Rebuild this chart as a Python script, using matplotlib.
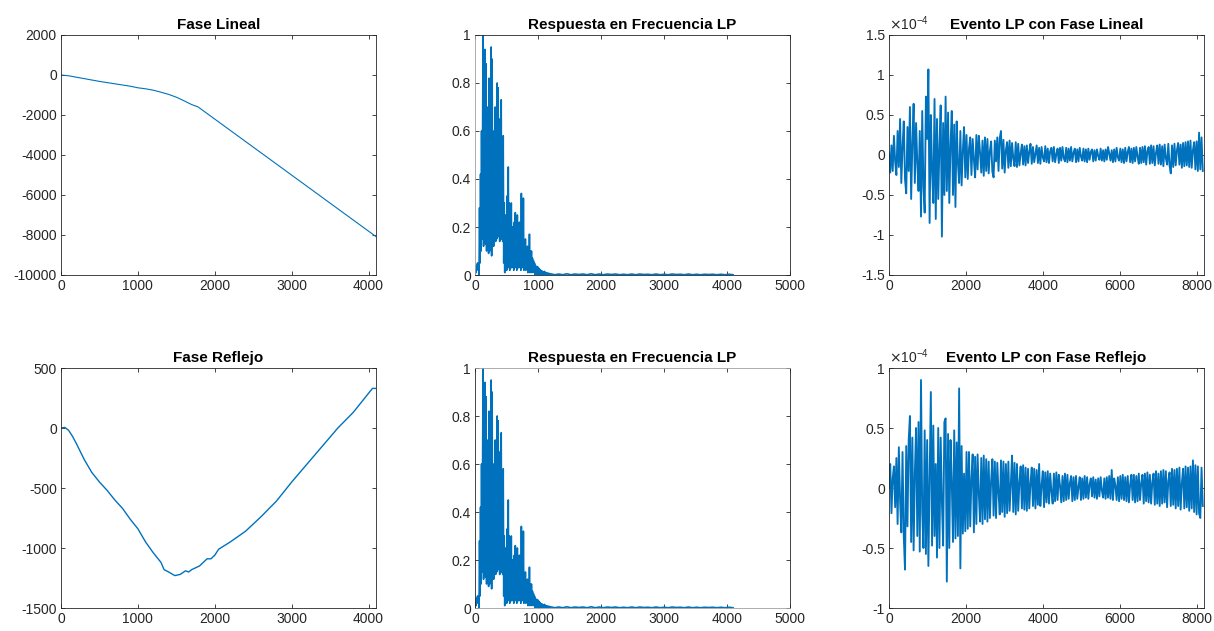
import numpy as np
import matplotlib
matplotlib.use('Agg')
import matplotlib.pyplot as plt
from matplotlib.ticker import FuncFormatter

plt.rcParams['font.family'] = ['Liberation Sans', 'DejaVu Sans']
plt.rcParams['axes.unicode_minus'] = False

BLUE = '#0072BD'
DARK = '#262626'

# --- phase curves (bin index, radians) ---
lin_phase_x = [0, 100, 300, 500, 700, 900, 1000, 1100, 1200, 1300, 1400, 1500,
               1600, 1700, 1780, 2000, 2500, 3000, 3500, 4000, 4096]
lin_phase_y = [0, -40, -180, -320, -440, -560, -640, -690, -760, -860, -970, -1110,
               -1290, -1480, -1590, -2206, -3607, -5008, -6409, -7811, -8080]

refl_phase_x = [0, 50, 100, 150, 200, 300, 400, 500, 600, 700, 800, 900, 1000,
                1100, 1200, 1300, 1340, 1400, 1480, 1550, 1620, 1660, 1700, 1800,
                1900, 1950, 2000, 2050, 2200, 2400, 2600, 2800, 3000, 3200, 3400,
                3600, 3800, 4000, 4050, 4096]
refl_phase_y = [0, 5, -20, -70, -130, -260, -370, -450, -520, -600, -670, -760, -840,
                -950, -1040, -1120, -1180, -1200, -1230, -1220, -1190, -1200, -1180, -1150,
                -1090, -1090, -1060, -1010, -950, -860, -740, -610, -450, -300, -150,
                0, 130, 290, 330, 330]

# --- normalised spectrum magnitude, head every 8 bins, tail every 64 bins ---
spec_head = [
    0.0, 0.02, 0.01, 0.04, 0.02, 0.05, 0.03, 0.05, 0.0, 0.28, 0.05, 0.42, 0.1, 0.6, 0.15, 0.6,
    1.0, 0.12, 0.7, 0.2, 0.94, 0.13, 0.88, 0.1, 0.7, 0.3, 0.6, 0.09, 0.82, 0.1, 0.8, 0.2,
    0.95, 0.08, 0.9, 0.15, 0.6, 0.12, 0.45, 0.2, 0.7, 0.14, 0.5, 0.15, 0.8, 0.2, 0.78, 0.16,
    0.65, 0.14, 0.55, 0.2, 0.73, 0.15, 0.45, 0.14, 0.58, 0.05, 0.3, 0.01, 0.25, 0.04, 0.18, 0.02,
    0.33, 0.03, 0.45, 0.05, 0.3, 0.02, 0.25, 0.04, 0.3, 0.03, 0.2, 0.05, 0.15, 0.02, 0.22, 0.03,
    0.26, 0.04, 0.18, 0.02, 0.25, 0.05, 0.2, 0.03, 0.22, 0.04, 0.15, 0.02, 0.34, 0.03, 0.2, 0.05,
    0.32, 0.02, 0.12, 0.04, 0.15, 0.02, 0.1, 0.03, 0.12, 0.01, 0.08, 0.02, 0.17, 0.01, 0.1, 0.02,
    0.1, 0.01, 0.07, 0.02, 0.06, 0.01, 0.05, 0.0, 0.04, 0.01, 0.03, 0.0, 0.035, 0.005, 0.03, 0.002,
    0.025, 0.003, 0.02, 0.002, 0.018, 0.001, 0.015, 0.003, 0.012, 0.002, 0.015, 0.001, 0.01, 0.002, 0.008, 0.001,
    0.008, 0.002, 0.007, 0.001, 0.006, 0.002,
]
spec_tail = [
    0.005, 0.001, 0.004, 0.001, 0.005, 0.001, 0.004, 0.002, 0.004, 0.001, 0.005, 0.001,
    0.004, 0.001, 0.004, 0.002, 0.004, 0.001, 0.003, 0.001, 0.004, 0.001, 0.004, 0.002,
    0.003, 0.001, 0.004, 0.001, 0.003, 0.001, 0.004, 0.002, 0.003, 0.001, 0.004, 0.001,
    0.003, 0.001, 0.003, 0.002, 0.003, 0.001, 0.003, 0.001, 0.003, 0.001,
]

# --- time-domain events, one value every 32 samples, in units of 1e-6 ---
event_lin = [
    3, -22, 12, -20, 24, -8, -25, 30, -15, 45, -35, 10, 42, -30, -48, 35,
    -20, 60, -55, 15, 64, -35, 40, -10, -45, 30, -77, 55, -40, -72, 73, 20,
    107, -85, 50, -20, -60, 70, -80, 45, -55, 10, 62, -102, 40, -50, 73, -45,
    53, -60, 12, 55, -50, 38, -65, 42, -10, -35, 30, -38, 5, 35, -28, 25,
    -30, 8, 22, -25, 20, -6, -28, 25, -18, 24, 3, -22, 18, -26, 22, -20,
    20, -23, 5, 17, -21, -28, 18, -8, 22, -20, 21, 30, -17, 19, -22, 6,
    16, -16, 18, -14, 15, -4, -14, 16, -15, 14, -13, 2, 13, -12, 11, -13,
    12, -10, 4, 14, -11, 10, -9, 2, 12, -10, 9, -11, 10, -3, -8, 11,
    -9, 8, -10, 5, 9, -8, 10, -9, 1, 8, -10, 9, -7, 10, -4, -8,
    9, -9, 8, -7, 10, -8, 3, 8, -9, 7, -8, 9, -2, -7, 8, -8,
    7, -9, 8, -6, 4, 7, -8, 6, -7, 7, -1, -6, 8, -7, 6, -8,
    7, -6, 10, 2, -7, 6, -9, 7, -8, 9, -3, -7, 8, -9, 7, -10,
    9, -8, 4, 10, -9, 8, -10, 9, -8, 10, -2, -11, 9, -10, 10, -9,
    11, -12, 5, 10, -11, 12, -10, 11, -13, 3, 12, -11, 13, -12, 11, -14,
    13, -4, -12, 14, -13, -23, 12, -15, 14, -13, 6, 15, -12, 13, -16, 15,
    -14, 16, -13, 17, -15, 18, -16, 6, 16, -18, 17, -20, 28, -18, 22, -20,
]
event_refl = [
    0, 20, -21, 8, 18, -16, 25, -30, 34, -10, -37, 30, -40, -68, 35, -32,
    40, 60, -45, 42, -52, 12, 50, -40, 55, -53, 90, -20, -50, 48, -55, 40,
    -65, 10, 80, -48, 52, -40, 20, -58, 50, -50, 42, -12, -48, 55, 58, -78,
    45, -50, 40, 5, -45, 48, -42, 38, -40, 83, -67, 35, -38, 12, -36, 30,
    -34, 30, -32, 8, 28, -37, 26, -30, 28, -5, -28, 25, -30, 27, -26, 24,
    -28, 22, -25, 6, 24, -23, 22, -25, 21, -4, -22, 23, -20, 22, -24, 20,
    -21, 22, -19, 3, 27, -20, 21, -22, 20, -19, 5, 18, -17, 19, -18, 17,
    -19, 16, -17, 4, 17, -15, 16, -17, 15, -14, 20, -15, 2, 14, -16, 13,
    -12, 14, -13, 12, -3, -13, 12, -11, 13, -10, 11, 2, -12, 10, -11, 12,
    -10, 11, -9, 4, 10, -11, 9, -10, 10, -9, 1, 9, -10, 8, -9, 10,
    -8, 9, -9, 3, 8, -7, 9, -8, 7, -9, 8, -7, 9, -2, -8, 8,
    -9, 9, -8, 10, -9, 15, -10, 8, 2, -10, 9, -11, 10, -9, 11, -10,
    9, -11, 10, -12, 3, 11, -10, 11, -12, 10, -11, 12, -10, 4, 11, -13,
    12, -11, 13, -12, 11, -13, 5, 12, -14, 14, -13, 12, -15, 14, -13, 15,
    -12, 14, -16, 6, 13, -15, 16, -14, 15, -17, 16, -15, 17, -18, 4, 16,
    -17, 18, -16, 17, -19, 18, -17, 23, -20, 19, -22, 18, -21, -25, 17, -15,
]


def style_axes(ax):
    for s in ax.spines.values():
        s.set_color(DARK)
        s.set_linewidth(0.6)
    ax.tick_params(direction='in', length=3, width=0.6, top=True, right=True,
                   colors=DARK, labelsize=10, pad=3)


def plot_spectrum(ax, title):
    x_head = np.arange(len(spec_head)) * 8
    x_tail = np.linspace(1200, 4096, len(spec_tail))
    ax.plot(np.concatenate([x_head, x_tail]), spec_head + spec_tail, color=BLUE, lw=1.2)
    ax.set_xlim(0, 5000)
    ax.set_ylim(0, 1)
    ax.set_xticks([0, 1000, 2000, 3000, 4000, 5000])
    ax.set_yticks([0, 0.2, 0.4, 0.6, 0.8, 1])
    ax.yaxis.set_major_formatter(FuncFormatter(lambda v, p: '%g' % v))
    ax.set_title(title, fontsize=11, fontweight='bold', pad=4)
    style_axes(ax)


def plot_event(ax, values, title, ylim, yticks):
    x = np.arange(len(values)) * 32
    ax.plot(x, np.array(values) / 100.0, color=BLUE, lw=1.35)
    ax.set_xlim(0, 8192)
    ax.set_ylim(*ylim)
    ax.set_xticks([0, 2000, 4000, 6000, 8000])
    ax.set_yticks(yticks)
    ax.yaxis.set_major_formatter(FuncFormatter(lambda v, p: '%g' % v))
    ax.set_title(title, fontsize=11, fontweight='bold', pad=4)
    ax.text(0.0, 1.008, r'$\times\mathregular{10^{-4}}$', transform=ax.transAxes,
            fontsize=10, color=DARK, va='bottom', ha='left')
    style_axes(ax)


fig = plt.figure(figsize=(12.14, 6.31), dpi=100)
lefts = [61 / 1214, 475 / 1214, 889 / 1214]
w = 315 / 1214
top_b, bot_b = 1 - 275 / 631, 1 - 608 / 631
h = 240 / 631

# top row
ax = fig.add_axes([lefts[0], top_b, w, h])
ax.plot(lin_phase_x, lin_phase_y, color=BLUE, lw=0.8)
ax.set_xlim(0, 4096)
ax.set_ylim(-10000, 2000)
ax.set_xticks([0, 1000, 2000, 3000, 4000])
ax.set_yticks(range(-10000, 2001, 2000))
ax.set_title('Fase Lineal', fontsize=11, fontweight='bold', pad=4)
style_axes(ax)

ax = fig.add_axes([lefts[1], top_b, w, h])
plot_spectrum(ax, 'Respuesta en Frecuencia LP')
ax.spines['left'].set_color('#a0a0a0')

ax = fig.add_axes([lefts[2], top_b, w, h])
plot_event(ax, event_lin, 'Evento LP con Fase Lineal', (-1.5, 1.5),
           [-1.5, -1, -0.5, 0, 0.5, 1, 1.5])

# bottom row
ax = fig.add_axes([lefts[0], bot_b, w, h])
ax.plot(refl_phase_x, refl_phase_y, color=BLUE, lw=1.0)
ax.set_xlim(0, 4096)
ax.set_ylim(-1500, 500)
ax.set_xticks([0, 1000, 2000, 3000, 4000])
ax.set_yticks([-1500, -1000, -500, 0, 500])
ax.set_title('Fase Reflejo', fontsize=11, fontweight='bold', pad=4)
style_axes(ax)

ax = fig.add_axes([lefts[1], bot_b, w, h])
plot_spectrum(ax, 'Respuesta en Frecuencia LP')
ax.spines['top'].set_color('#a0a0a0')
ax.spines['bottom'].set_color('#a0a0a0')

ax = fig.add_axes([lefts[2], bot_b, w, h])
plot_event(ax, event_refl, 'Evento LP con Fase Reflejo', (-1, 1),
           [-1, -0.5, 0, 0.5, 1])

fig.savefig('out.png', dpi=100, facecolor='white')
